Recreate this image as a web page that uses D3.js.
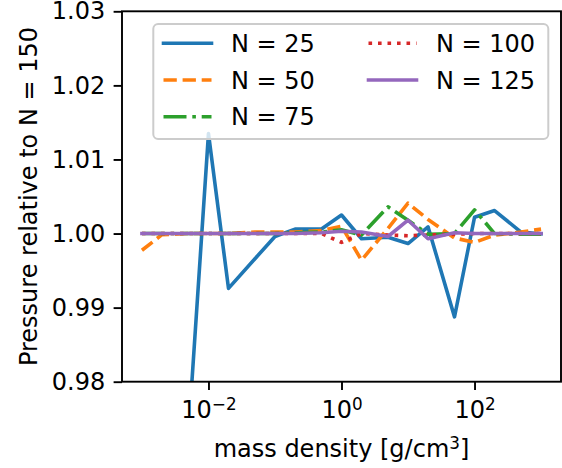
<!DOCTYPE html>
<html>
<head>
<meta charset="UTF-8">
<script src="https://d3js.org/d3.v7.min.js"></script>
<style type="text/css">
    body { margin: 0; background: #fff; }
    svg { display: block; font-family: "DejaVu Sans", sans-serif; }
    .axis path, .axis line { stroke: #000; stroke-width: 1.9; shape-rendering: auto; }
    .axis text { font-size: 24px; fill: #000; }
    .line { fill: none; stroke-width: 3.6; stroke-linejoin: round; }
</style>
</head>
<body>
<script type="text/javascript">
// densities (g/cm^3) and pressure ratios
const densities = [1e-3, 2e-3, 5e-3, 1e-2, 2e-2, 5e-2, 1e-1, 2e-1, 5e-1, 1, 2, 5, 10, 20, 50, 100, 200, 500, 1000];
const n25  = [null, null, 0.973, 1.0135, 0.9926, 0.9966, 0.9996, 1.0006, 1.0006, 1.0025, 0.9993, 0.9995, 0.99865, 1.0009, 0.98875, 1.0022, 1.0031, 1.0002, 0.99995];
const n50  = [0.99775, 0.99985, 1.0, 1.0, 1.0, 1.0002, 1.0002, 1.0002, 1.0004, 1.001, 0.9964, 1.0007, 1.0041, 1.0019, 0.9994, 0.9988, 0.9998, 1.0002, 1.0006];
const n75  = [1.0, 1.0, 1.0, 1.0, 1.0, 1.0, 1.0, 1.0001, 1.0002, 1.0005, 0.9998, 1.0036, 1.0018, 0.9999, 1.0, 1.0032, 1.0, 0.9999, 0.9999];
const n100 = [1.0, 1.0, 1.0, 1.0, 1.0, 1.0, 1.0, 1.0, 1.0, 0.9988, 1.0, 0.9998, 0.9997, 0.9998, 0.9999, 1.0, 1.0, 1.0, 1.0];
const n125 = [1.0, 1.0, 1.0, 1.0, 1.0, 1.0, 1.0, 1.0, 1.0001, 1.0003, 1.0002, 0.9996, 1.0018, 0.9993, 1.0001, 1.0, 1.0, 1.0, 1.0];

const seriesLabels = ['N = 25', 'N = 50', 'N = 75', 'N = 100', 'N = 125'];
const yTicks = [0.98, 0.99, 1.00, 1.01, 1.02, 1.03];
const xTicks = [1e-2, 1e0, 1e2];
const xTickExps = ['\u22122', '0', '2'];

const series = [
    { label: seriesLabels[0], values: n25,  color: '#1f77b4', dash: null },
    { label: seriesLabels[1], values: n50,  color: '#ff7f0e', dash: '13.3,5.8' },
    { label: seriesLabels[2], values: n75,  color: '#2ca02c', dash: '23,5.8,3.6,5.8' },
    { label: seriesLabels[3], values: n100, color: '#d62728', dash: '3.6,5.9' },
    { label: seriesLabels[4], values: n125, color: '#9467bd', dash: null }
];

const W = 562, H = 468;
const plotL = 122, plotR = 561, plotT = 11.3, plotB = 381.7;
const tickLen = 8.4, tickPad = 8.4;

const svg = d3.select('body').append('svg')
    .attr('width', W)
    .attr('height', H);

const x = d3.scaleLog().domain([Math.pow(10, -3.3), Math.pow(10, 3.3)]).range([plotL, plotR]);
const y = d3.scaleLinear().domain([0.98, 1.03]).range([plotB, plotT]);

svg.append('clipPath').attr('id', 'clip')
    .append('rect')
    .attr('x', plotL).attr('y', plotT)
    .attr('width', plotR - plotL).attr('height', plotB - plotT);

// Lines
const line = d3.line()
    .defined(d => d[1] != null)
    .x(d => x(d[0]))
    .y(d => y(d[1]));

const plot = svg.append('g').attr('clip-path', 'url(#clip)');
series.forEach(s => {
    plot.append('path')
        .datum(densities.map((d, i) => [d, s.values[i]]))
        .attr('class', 'line')
        .attr('stroke', s.color)
        .attr('stroke-dasharray', s.dash)
        .attr('stroke-linecap', s.dash ? 'butt' : 'square')
        .attr('d', line);
});

// Axes
const yAxis = d3.axisLeft(y)
    .tickValues(yTicks)
    .tickFormat(d3.format('.2f'))
    .tickSize(tickLen)
    .tickPadding(tickPad)
    .tickSizeOuter(0);
svg.append('g')
    .attr('class', 'axis')
    .attr('transform', 'translate(' + plotL + ',0)')
    .call(yAxis)
    .call(g => g.select('.domain').remove())
    .selectAll('text').attr('font-family', 'DejaVu Sans');

const xAxis = d3.axisBottom(x)
    .tickValues(xTicks)
    .tickFormat('')
    .tickSize(tickLen)
    .tickSizeOuter(0);
const gx = svg.append('g')
    .attr('class', 'axis')
    .attr('transform', 'translate(0,' + plotB + ')')
    .call(xAxis)
    .call(g => g.select('.domain').remove());

gx.selectAll('.tick').each(function (d, i) {
    const t = d3.select(this).append('text')
        .attr('y', 36.6)
        .attr('dy', 0)
        .attr('text-anchor', 'middle')
        .attr('font-family', 'DejaVu Sans');
    t.append('tspan').text('10');
    t.append('tspan')
        .attr('dy', -8.3)
        .style('font-size', '16.8px')
        .text(xTickExps[i]);
});

// Frame
svg.append('rect')
    .attr('x', plotL).attr('y', plotT)
    .attr('width', plotR - plotL).attr('height', plotB - plotT)
    .attr('fill', 'none')
    .attr('stroke', '#000')
    .attr('stroke-width', 1.9);

// Axis labels
const xl = svg.append('text')
    .attr('x', (plotL + plotR) / 2)
    .attr('y', 457.3)
    .attr('text-anchor', 'middle')
    .style('font-size', '24px');
xl.append('tspan').text('mass density [g/cm');
xl.append('tspan').attr('dy', -8.3).style('font-size', '16.8px').text('3');
xl.append('tspan').attr('dy', 8.3).text(']');

svg.append('text')
    .attr('transform', 'translate(36.7,' + ((plotT + plotB) / 2) + ') rotate(-90)')
    .attr('text-anchor', 'middle')
    .style('font-size', '24px')
    .text('Pressure relative to N = 150');

// Legend
const legend = svg.append('g');
legend.append('rect')
    .attr('x', 153.3).attr('y', 24)
    .attr('width', 395).attr('height', 115)
    .attr('rx', 4.8)
    .attr('fill', 'white').attr('fill-opacity', 0.8)
    .attr('stroke', '#cccccc').attr('stroke-width', 2);

const rowY = [43.3, 80, 116.7];
const colHandleX = [163.5, 368.5];
const colTextX = [231, 436];
series.forEach((s, i) => {
    const col = i < 3 ? 0 : 1;
    const row = i < 3 ? i : i - 3;
    legend.append('line')
        .attr('x1', colHandleX[col]).attr('x2', colHandleX[col] + 48)
        .attr('y1', rowY[row]).attr('y2', rowY[row])
        .attr('stroke', s.color)
        .attr('stroke-width', 3.6)
        .attr('stroke-dasharray', s.dash)
        .attr('stroke-linecap', s.dash ? 'butt' : 'square');
    legend.append('text')
        .attr('x', colTextX[col])
        .attr('y', rowY[row] + 8.7)
        .style('font-size', '24px')
        .text(s.label);
});
</script>
</body>
</html>
